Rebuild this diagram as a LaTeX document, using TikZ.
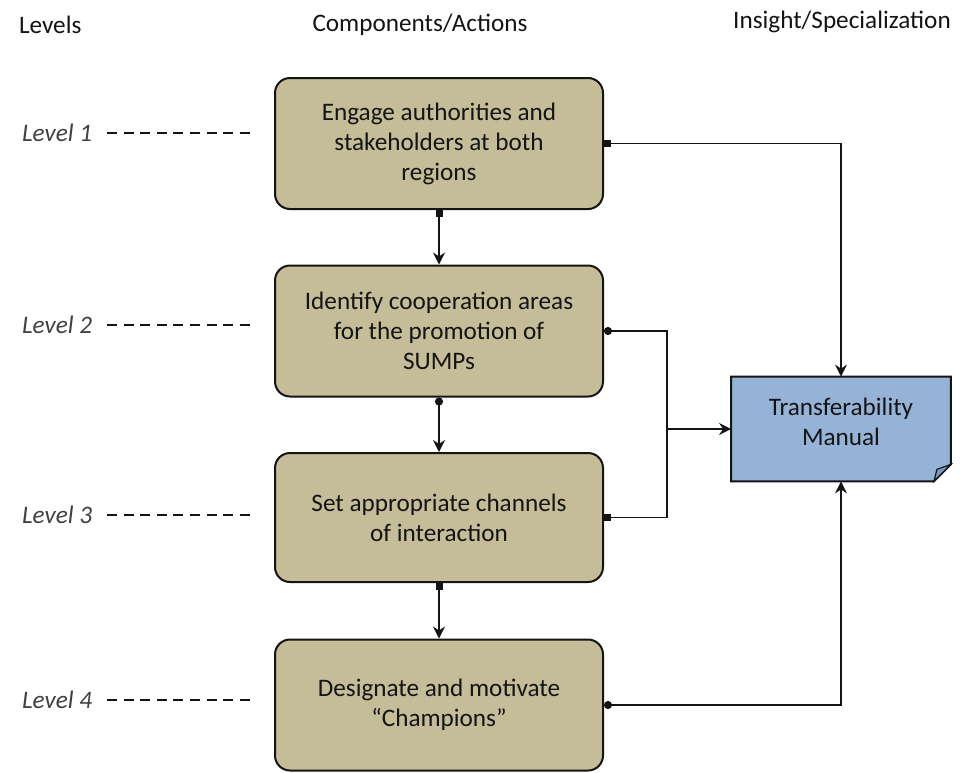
\documentclass[tikz,border=0pt]{standalone}
\usepackage{fontspec}
\setmainfont{Carlito}
\usetikzlibrary{positioning,arrows.meta,calc}
\definecolor{boxtan}{HTML}{C4BD97}
\definecolor{manblue}{HTML}{95B3D7}
\definecolor{foldblue}{HTML}{7C9AC2}
\definecolor{lvlgray}{HTML}{404040}
\definecolor{ink}{HTML}{141414}
\tikzset{
  action/.style  = {rectangle, rounded corners=7.5pt, draw=ink, fill=boxtan, line width=1pt,
                    minimum width=164pt, minimum height=65.5pt, inner sep=0pt, align=center,
                    font=\fontsize{12.6}{15}\selectfont, text=ink},
  docbox/.style  = {rectangle, minimum width=109.5pt, minimum height=52pt, inner sep=0pt},
  docshape/.style= {draw=ink, fill=manblue, line width=1pt},
  doctext/.style = {align=center, font=\fontsize{12.6}{15}\selectfont, text=ink},
  hdr/.style     = {font=\fontsize{12.6}{15}\selectfont, text=ink},
  lvl/.style     = {font=\fontsize{12.6}{15}\selectfont\itshape, text=lvlgray},
  guide/.style   = {draw=ink, line width=0.7pt, dash pattern=on 5pt off 3.3pt},
  flow/.style    = {-{Stealth[length=6pt, width=6pt, inset=2pt]}, line width=0.9pt, draw=ink},
}

\begin{document}
\begin{tikzpicture}[x=0.5pt, y=0.5pt]
  \useasboundingbox (0,0) rectangle (963,-772);

  % column heads
  \node[hdr, anchor=west] (hlevels) at (12,-25) {Levels};
  \node[hdr] (hcomp) at (420,-25) {Components/Actions};
  \node[hdr] (hins) at (842,-22) {Insight/Specialization};

  % level marks
  \foreach \n/\y in {1/133,2/325,3/515,4/700} {
    \node[lvl, anchor=west] (lvl\n) at (15,-\y) {Level \n};
    \draw[guide] (107,-\y) -- (255,-\y);
  }

  % actions
  \node[action] (engage) at (439,-143.5) {Engage authorities and\\stakeholders at both\\regions};
  \node[action] (identify) at (439,-331) {Identify cooperation areas\\for the promotion of\\SUMPs};
  \node[action, minimum height=64.5pt] (channels) at (439,-517.5) {Set appropriate channels\\of interaction};
  \node[action] (champions) at (439,-705) {Designate and motivate\\``Champions''};

  % manual
  \node[docbox] (manual) at (841,-429) {};
  \draw[docshape] (manual.north west) -- (manual.north east) -- ($(manual.south east)+(0,17)$)
    -- ($(manual.south east)+(-17,0)$) -- (manual.south west) -- cycle;
  \fill[foldblue, draw=ink, line width=0.6pt] ($(manual.south east)+(0,17)$) -- ($(manual.south east)+(-17,0)$)
    -- ($(manual.south east)+(-14,12)$) -- cycle;
  \node[doctext] (manualtxt) at ([yshift=3.5pt]manual.center) {Transferability\\Manual};

  % flow down
  \draw[flow, {Square[length=3.5pt, width=3.5pt]}-{Stealth[length=6pt, width=6pt, inset=2pt]}] (engage) -- (identify);
  \draw[flow, {Circle[length=4pt]}-{Stealth[length=6pt, width=6pt, inset=2pt]}] (identify) -- (channels);
  \draw[flow, {Square[length=3.5pt, width=3.5pt]}-{Stealth[length=6pt, width=6pt, inset=2pt]}] (channels) -- (champions);

  % into the manual
  \coordinate (join) at (667,-429);
  \draw[flow, {Square[length=3.5pt, width=3.5pt]}-{Stealth[length=6pt, width=6pt, inset=2pt]}] (engage.east) -| (manual.north);
  \draw[flow, {Circle[length=4pt]}-] (identify.east) -| (join);
  \draw[flow, {Square[length=3.5pt, width=3.5pt]}-] (channels.east) -| (join);
  \draw[flow] (join) -- (manual.west);
  \draw[flow, {Circle[length=4pt]}-{Stealth[length=6pt, width=6pt, inset=2pt]}] (champions.east) -| (manual.south);
\end{tikzpicture}
\end{document}
